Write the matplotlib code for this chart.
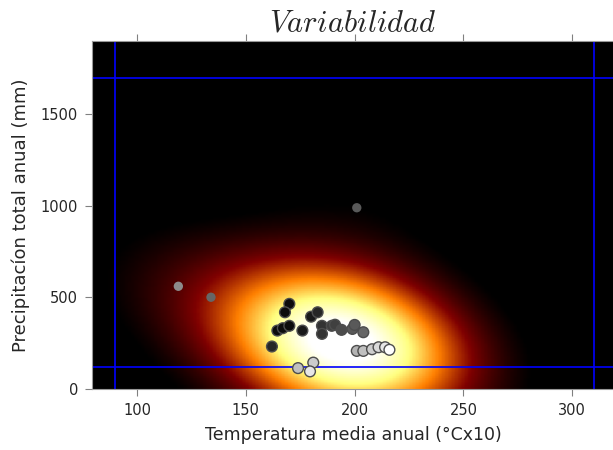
import numpy as np
import matplotlib.pyplot as plt

plt.rcParams['mathtext.fontset'] = 'cm'

# ---------------------- datos ----------------------
# temperatura media anual (°Cx10) y precipitacion anual (mm) por año
temp = [170, 168, 180, 183, 164.5, 167, 170, 176, 162, 185, 185, 189.5, 191,
        194, 199, 200, 204, 174, 181, 179.5, 201, 204, 208, 211, 214, 216]
prec = [464, 418, 394, 418, 318, 331, 344, 318, 231, 344, 300, 344, 350,
        322, 327, 349, 309, 113, 143, 95, 207, 207, 216, 227, 227, 213]
tono = [0.05, 0.05, 0.1, 0.15, 0.05, 0.05, 0.05, 0.1, 0.15, 0.2, 0.2, 0.25, 0.25,
        0.3, 0.35, 0.35, 0.4, 0.75, 0.8, 0.9, 0.7, 0.75, 0.8, 0.85, 0.9, 1.0]

# años atipicos
temp_out = [119, 134, 201]
prec_out = [560, 500, 989]
tono_out = [0.55, 0.4, 0.35]

# limites de la serie
tmin, tmax = 90, 310
pmin, pmax = 120, 1700

# ---------------------- densidad (kde gaussiano) ----------------------
datos = np.vstack([temp + temp_out, prec + prec_out])
peso = np.array(tono + tono_out) + 0.2
S = np.diag([1.5, 1.6])
cov = S @ np.cov(datos) @ S
inv = np.linalg.inv(cov)
xx, yy = np.mgrid[79.3:319.3:160j, 0:1900:160j]
pos = np.vstack([xx.ravel(), yy.ravel()])
d = pos[:, :, None] - datos[:, None, :]
q = np.einsum('ijk,il,ljk->jk', d, inv, d)
Z = (np.exp(-0.5 * q) * peso).sum(axis=1).reshape(xx.shape)

# ---------------------- grafica ----------------------
fig = plt.figure(figsize=(6.13, 4.5), dpi=100)
ax = fig.add_axes([0.150, 0.136, 0.852, 0.773])
ax.imshow(np.rot90(Z), cmap=plt.cm.afmhot, extent=[79.3, 319.3, 0, 1900], aspect='auto',
          vmin=0.06 * Z.max(), vmax=0.93 * Z.max())
ax.scatter(temp, prec, c=tono, cmap='gray', vmin=0, vmax=1, s=60,
           edgecolors='0.3', linewidths=1, zorder=3)
ax.scatter(temp_out, prec_out, c=tono_out, cmap='gray', vmin=0, vmax=1, s=45,
           linewidths=0, zorder=3)
ax.axvline(tmin, c='blue', lw=1.2)
ax.axvline(tmax, c='blue', lw=1.2)
ax.axhline(pmin, c='blue', lw=1.2)
ax.axhline(pmax, c='blue', lw=1.2)

ax.set_xlim(79.3, 319.3)
ax.set_ylim(0, 1900)
ax.set_xticks([100, 150, 200, 250, 300])
ax.set_yticks([0, 500, 1000, 1500])
ax.tick_params(axis='both', direction='out', length=5, color='0.5', pad=5,
               labelcolor='#262626', labelsize=10.5, top=True)
for s in ax.spines.values():
    s.set_color('0.6')
ax.set_xlabel('Temperatura media anual (°Cx10)', fontsize=12.5, color='#262626',
              labelpad=6)
ax.set_ylabel('Precipitacíon total anual (mm)', fontsize=13, color='#262626',
              labelpad=8)
ax.set_title('$Variabilidad$', fontsize=22, color='#262626', pad=7)
fig.savefig('out.png', dpi=100)
